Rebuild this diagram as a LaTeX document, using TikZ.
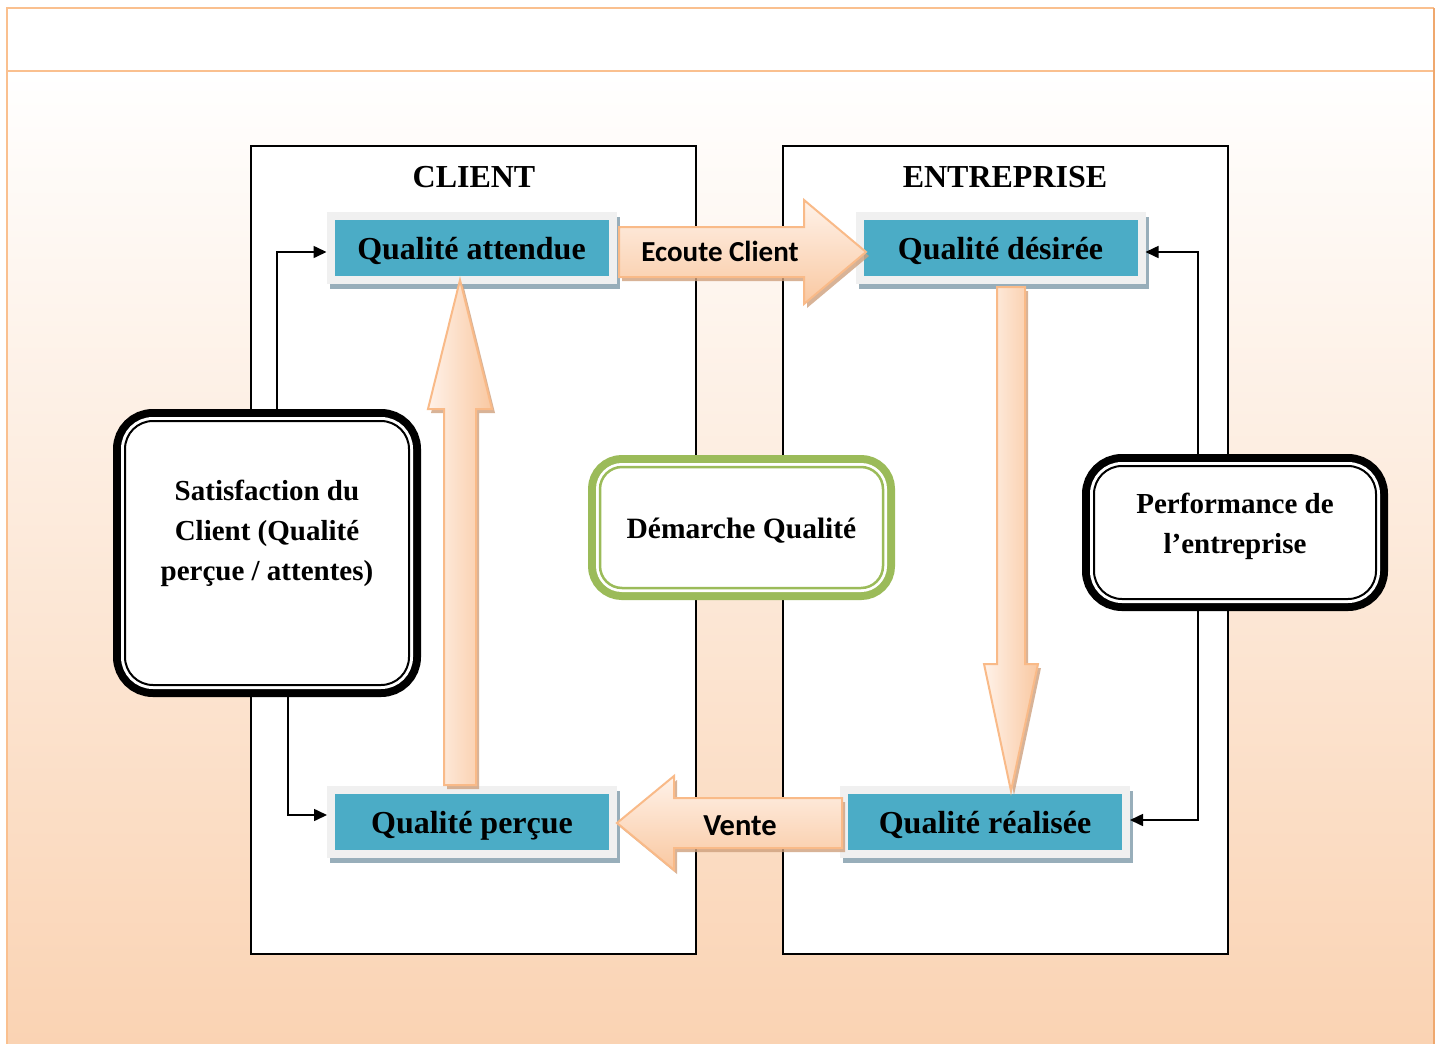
\documentclass[tikz,border=0pt]{standalone}
\usepackage{fontspec}
\setmainfont{Liberation Serif}
\newfontfamily\calfont{Carlito}
\usetikzlibrary{arrows.meta,calc}

\definecolor{frameorange}{HTML}{FAC08F}
\definecolor{edgeorange}{HTML}{EFA86E}
\definecolor{peach}{HTML}{FAD3B3}
\definecolor{qteal}{HTML}{4BACC6}
\definecolor{framegray}{HTML}{F0F0F0}
\definecolor{shadowblue}{HTML}{98AEBA}
\definecolor{leafgreen}{HTML}{9BBB59}
\definecolor{arrowline}{HTML}{F9BA88}
\definecolor{arrowlight}{HTML}{FFF2E9}
\definecolor{arrowdark}{HTML}{F9C8A1}
\definecolor{arrowshadow}{HTML}{CFA07E}

\begin{document}
\begin{tikzpicture}[x=1pt,y=-1pt,
  qbox/.style={fill=qteal, draw=framegray, line width=8pt,
    minimum width=282pt, minimum height=64pt, inner sep=0pt,
    text height=25pt, text depth=3pt,
    font=\fontsize{32}{38}\selectfont\bfseries,
    preaction={fill=shadowblue, draw=shadowblue, line width=8pt,
      transform canvas={xshift=3pt,yshift=-5pt}}},
  panel/.style={draw=black, line width=2pt, fill=white, inner sep=0pt,
    minimum width=445pt, minimum height=808pt},
  paneltitle/.style={font=\fontsize{32}{38}\selectfont\bfseries},
  ringbox/.style={draw=#1, fill=white, inner sep=0pt, outer sep=12pt,
    rounded corners=28pt,
    preaction={draw=#1, line width=24pt},
    preaction={draw=white, fill=white, line width=8pt}},
  boxtext/.style={font=\fontsize{29}{40}\selectfont\bfseries, align=center},
  conn/.style={draw=black, line width=1.6pt,
    -{Triangle[length=13pt,width=12pt]}},
  fatarrow/.style={draw=arrowline, line width=2pt, line join=miter,
    preaction={fill=arrowshadow, opacity=0.8,
      transform canvas={xshift=3pt,yshift=-4pt}}},
  arrowtext/.style={font=\calfont\bfseries\fontsize{29}{34}\selectfont}
]
\useasboundingbox (0,0) rectangle (1441,1044);

% page background and title band
\fill[top color=white, bottom color=peach] (7,71) rectangle (1434,1044);
\fill[white] (7,8) rectangle (1434,71);
\draw[frameorange, line width=2.5pt] (7,1044) -- (7,8) -- (1434,8);
\draw[frameorange, line width=2.5pt] (7,71) -- (1434,71);
\draw[edgeorange, line width=2.5pt] (1434,8) -- (1434,1044);

% the two panels
\node[panel] (client) at (473.5,550) {};
\node[panel] (entreprise) at (1005.5,550) {};
\node[paneltitle] (clienttitle) at (474,177) {CLIENT};
\node[paneltitle] (entreprisetitle) at (1005,177) {ENTREPRISE};

% quality boxes
\node[qbox] (qa) at (471.5,248) {Qualité attendue};
\node[qbox] (qd) at (1000.5,248) {Qualité désirée};
\node[qbox] (qp) at (472,822) {Qualité perçue};
\node[qbox] (qr) at (985,822) {Qualité réalisée};

% feedback boxes
\node[ringbox=black, line width=2pt, minimum width=284pt, minimum height=264pt,
  label={[boxtext, yshift=20pt]center:Satisfaction du\\Client (Qualité\\perçue / attentes)}]
  (sat) at (267,553) {};
\node[ringbox=black, line width=2pt, minimum width=282pt, minimum height=133pt,
  label={[boxtext, yshift=6pt]center:Performance de\\l’entreprise}]
  (perf) at (1235,532.5) {};
\node[ringbox=leafgreen, line width=2.5pt, rounded corners=22pt,
  minimum width=283pt, minimum height=121pt,
  label={[boxtext, font=\fontsize{29.5}{40}\selectfont\bfseries, yshift=-3pt]center:Démarche Qualité}]
  (demarche) at (741.5,527.5) {};

% thin connectors
\draw[conn] ([xshift=10pt]sat.north) |- ([yshift=-4pt]qa.west);
\draw[conn] ([xshift=21pt]sat.south) |- ([yshift=7pt]qp.west);
\draw[conn] ([xshift=-37pt]perf.north) |- ([yshift=-4pt]qd.east);
\draw[conn] ([xshift=-37pt]perf.south) |- ([yshift=2pt]qr.east);

% block arrows
\draw[fatarrow, top color=arrowlight, bottom color=arrowdark]
  (619,227) -- (804,227) -- (804,200) -- (866,252) -- (804,304)
  -- (804,277) -- (619,277) -- cycle;
\node[arrowtext] (ecoute) at (720,251) {Ecoute Client};

\draw[fatarrow, top color=arrowlight, bottom color=arrowdark]
  (842,798) -- (674,798) -- (674,776) -- (617,823) -- (674,870)
  -- (674,848) -- (842,848) -- cycle;
\node[arrowtext, font=\calfont\bfseries\fontsize{30.5}{34}\selectfont] (vente) at (740,826) {Vente};

\draw[fatarrow, left color=arrowlight, right color=arrowdark]
  (444,785) -- (444,409) -- (428,409) -- (460,280) -- (492,409)
  -- (476,409) -- (476,785) -- cycle;

\draw[fatarrow, left color=arrowlight, right color=arrowdark]
  (997,287) -- (997,664) -- (984,664) -- (1011,791) -- (1038,664)
  -- (1025,664) -- (1025,287) -- cycle;
\end{tikzpicture}
\end{document}
